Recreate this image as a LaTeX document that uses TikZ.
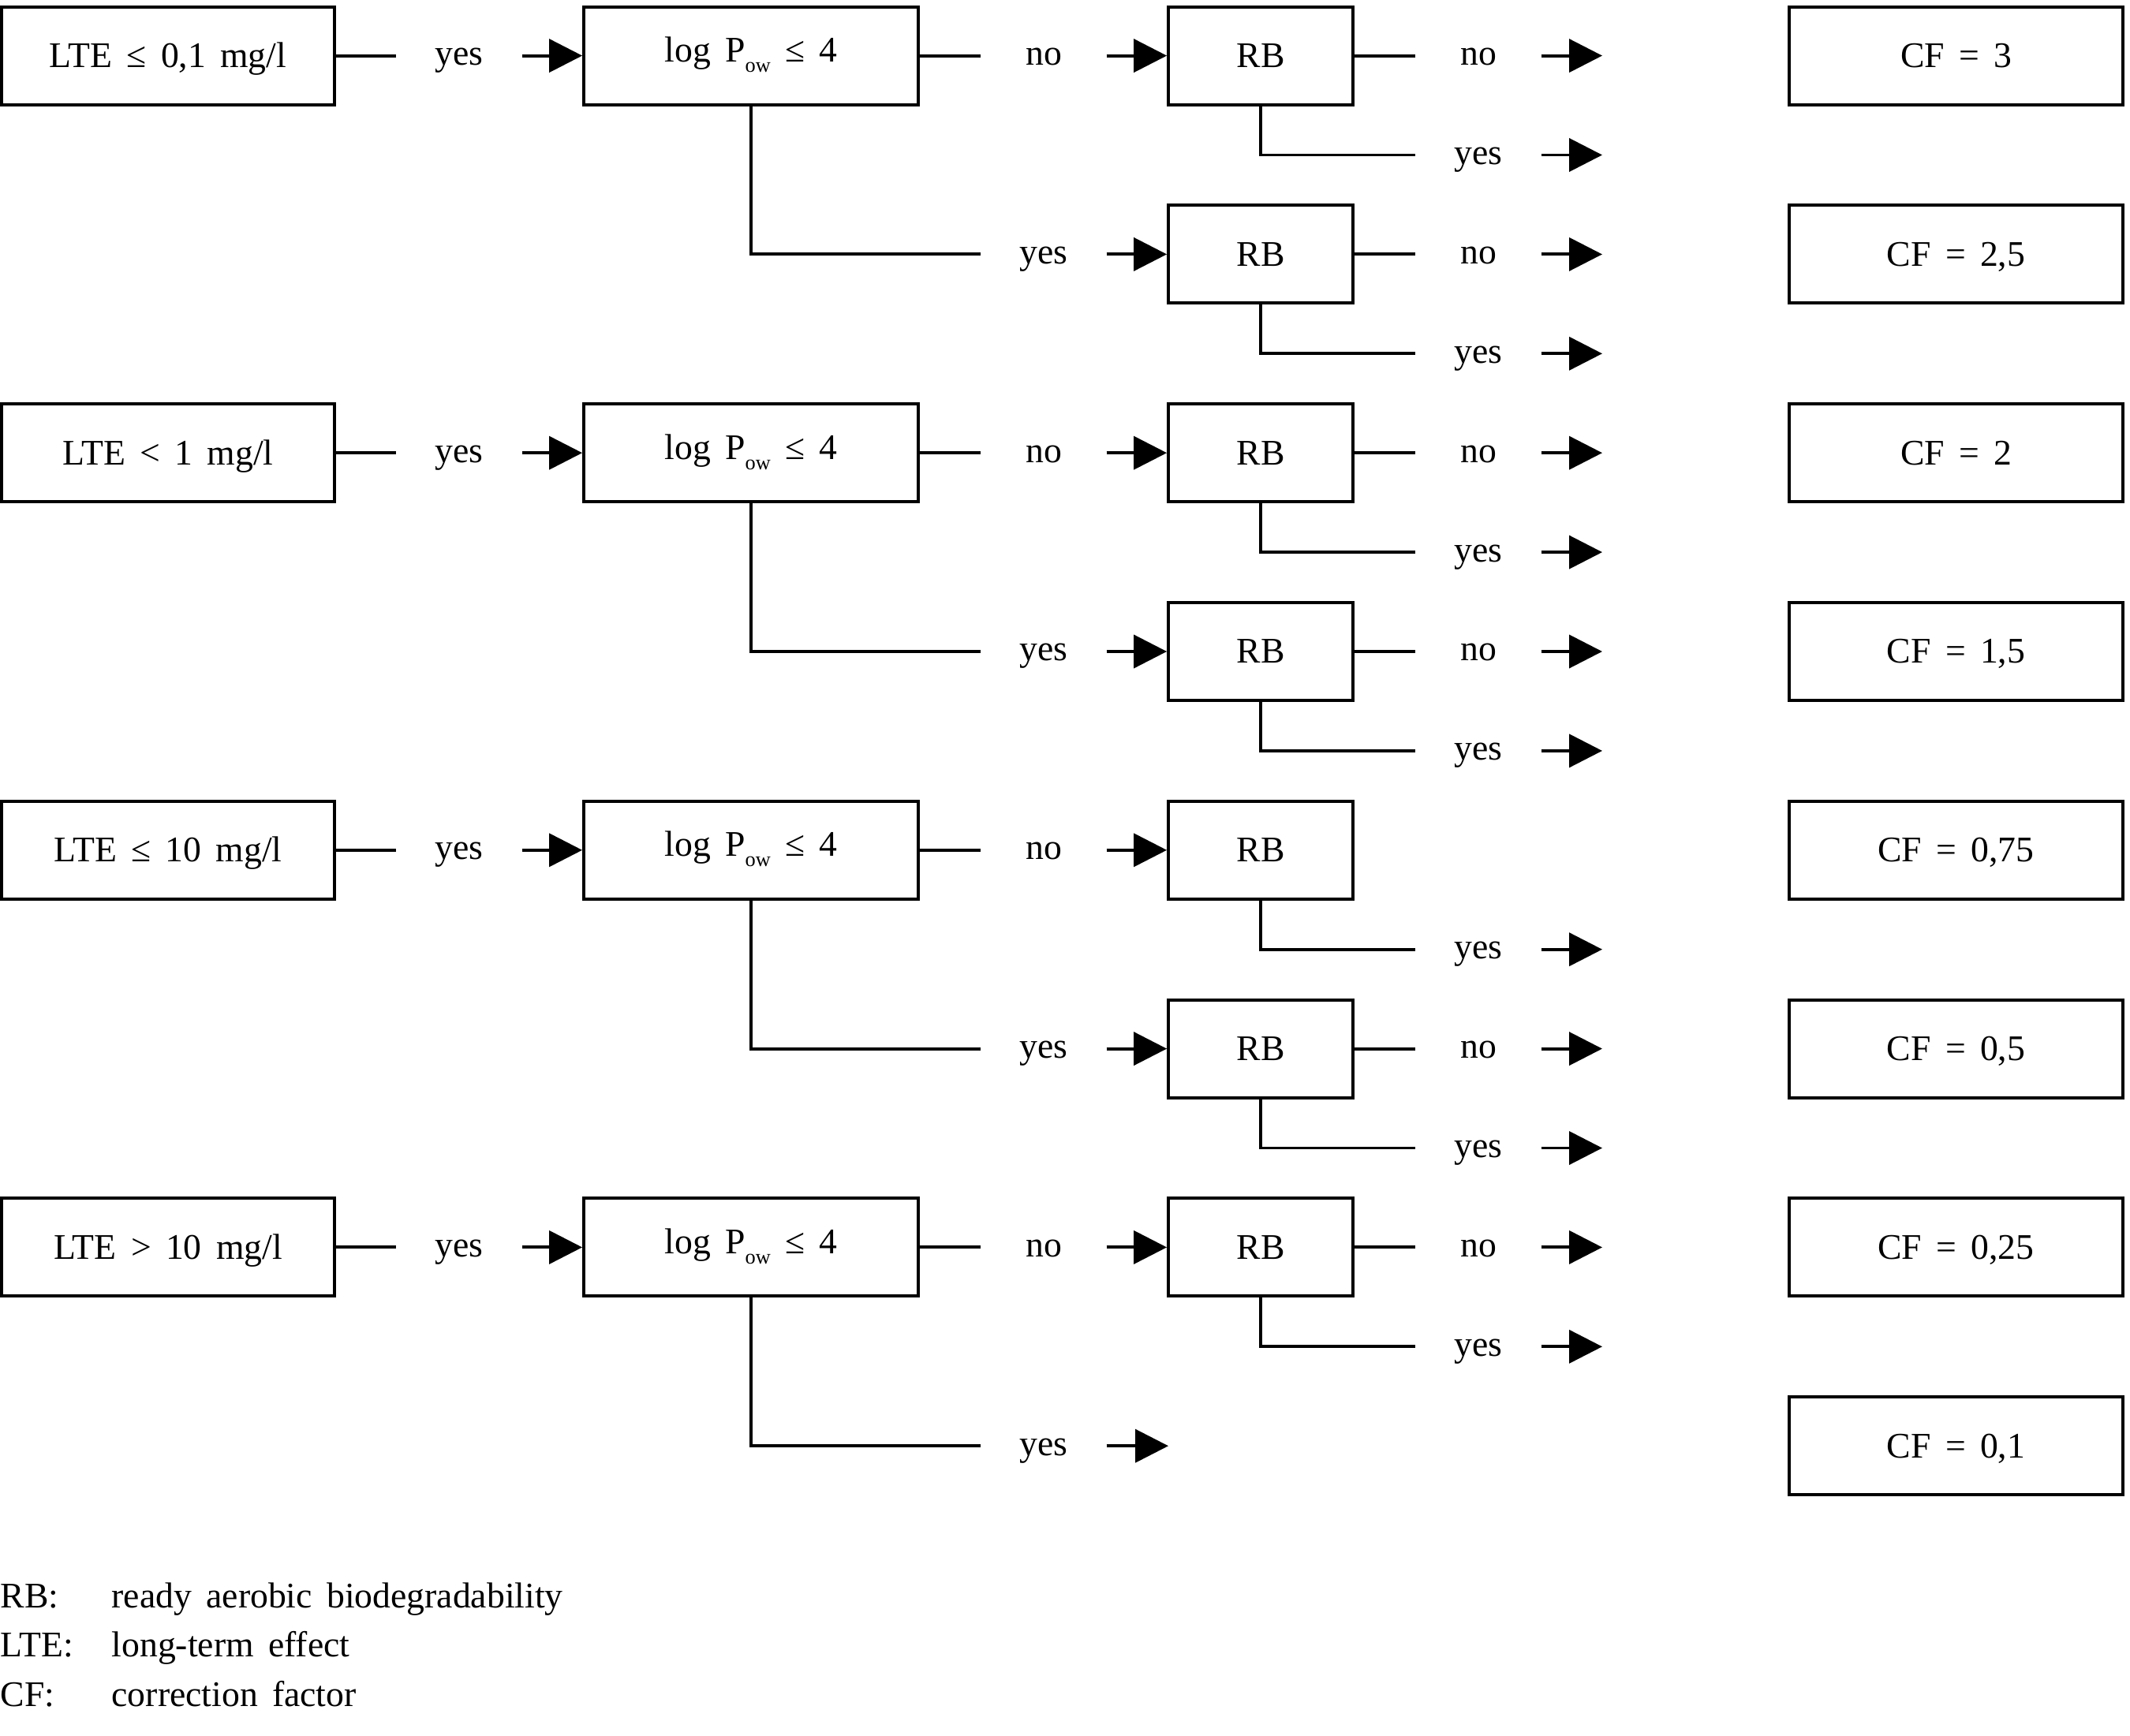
\documentclass[tikz,border=0pt]{standalone}
\usepackage{fontspec}
\setmainfont{Liberation Serif}[WordSpace=1.6]
\usetikzlibrary{arrows.meta}
\newcommand{\powsub}{P\raisebox{-3.7pt}{\fontsize{7.5}{8}\selectfont ow}}
\begin{document}
\begin{tikzpicture}[x=1cm,y=1cm,
  every node/.style={font=\fontsize{13}{15}\selectfont},
  box/.style={draw, line width=1.1pt, minimum height=1.24cm, inner sep=0pt, text height=8.5pt, text depth=0pt},
  ltebox/.style={box, minimum width=4.22cm},
  logbox/.style={box, minimum width=4.24cm, text depth=0.14cm},
  rbbox/.style={box, minimum width=2.34cm},
  cfbox/.style={box, minimum width=4.23cm},
  lab/.style={minimum width=1.58cm, inner sep=0pt, text height=6.8pt, text depth=0pt},
  ln/.style={line width=1.1pt},
  arr/.style={line width=1.1pt, -{Triangle[length=0.42cm,width=0.42cm]}},
  leg/.style={anchor=base west, inner sep=0pt}]
\useasboundingbox (0,0) rectangle (27,-22);
\begin{scope}[yshift=-0.706cm, y=-1.259cm]
\foreach \k/\txt in {0/{LTE ≤ 0,1 mg/l}, 1/{LTE < 1 mg/l}, 2/{LTE ≤ 10 mg/l}, 3/{LTE > 10 mg/l}} {
  \pgfmathtruncatemacro{\b}{4*\k}
  \node[ltebox] (L\k) at (2.13,\b) {\txt};
  \node[lab] (L\k y) at (5.82,\b) {yes};
  \node[logbox] (P\k) at (9.52,\b) {log \powsub{} ≤ 4};
  \node[lab] (P\k n) at (13.23,\b) {no};
  \node[rbbox] (R\k a) at (15.98,\b) {RB};
  \node[lab] (P\k y) at (13.23,{\b+2}) {yes};
  \draw[ln] (L\k) -- (L\k y);
  \draw[arr] (L\k y) -- (P\k);
  \draw[ln] (P\k) -- (P\k n);
  \draw[arr] (P\k n) -- (R\k a);
  \draw[ln] (P\k.south) |- (P\k y.west);
  % RB a: yes branch
  \node[lab] (R\k ay) at (18.74,{\b+1}) {yes};
  \coordinate (R\k aye) at (20.31,{\b+1});
  \draw[ln] (R\k a.south) |- (R\k ay.west);
  \draw[arr] (R\k ay) -- (R\k aye);
  % RB a: no branch
  \ifnum\k=2\else
    \node[lab] (R\k an) at (18.74,\b) {no};
    \coordinate (R\k ane) at (20.31,\b);
    \draw[ln] (R\k a) -- (R\k an);
    \draw[arr] (R\k an) -- (R\k ane);
  \fi
  \ifnum\k=3
    \coordinate (R\k bw) at (14.81,{\b+2});
    \draw[arr] (P\k y) -- (R\k bw);
  \else
    \node[rbbox] (R\k b) at (15.98,{\b+2}) {RB};
    \draw[arr] (P\k y) -- (R\k b);
    \node[lab] (R\k bn) at (18.74,{\b+2}) {no};
    \coordinate (R\k bne) at (20.31,{\b+2});
    \draw[ln] (R\k b) -- (R\k bn);
    \draw[arr] (R\k bn) -- (R\k bne);
    \node[lab] (R\k by) at (18.74,{\b+3}) {yes};
    \coordinate (R\k bye) at (20.31,{\b+3});
    \draw[ln] (R\k b.south) |- (R\k by.west);
    \draw[arr] (R\k by) -- (R\k bye);
  \fi
}
\node[cfbox] (C0) at (24.795,0) {CF = 3};
\node[cfbox] (C1) at (24.795,2) {CF = 2,5};
\node[cfbox] (C2) at (24.795,4) {CF = 2};
\node[cfbox] (C3) at (24.795,6) {CF = 1,5};
\node[cfbox] (C4) at (24.795,8) {CF = 0,75};
\node[cfbox] (C5) at (24.795,10) {CF = 0,5};
\node[cfbox] (C6) at (24.795,12) {CF = 0,25};
\node[cfbox] (C7) at (24.795,14) {CF = 0,1};
\end{scope}
\node[leg] (k1) at (0,-20.38) {RB:};
\node[leg] (d1) at (1.41,-20.38) {ready aerobic biodegradability};
\node[leg] (k2) at (0,-21.0) {LTE:};
\node[leg] (d2) at (1.41,-21.0) {long-term effect};
\node[leg] (k3) at (0,-21.63) {CF:};
\node[leg] (d3) at (1.41,-21.63) {correction factor};
\end{tikzpicture}
\end{document}
